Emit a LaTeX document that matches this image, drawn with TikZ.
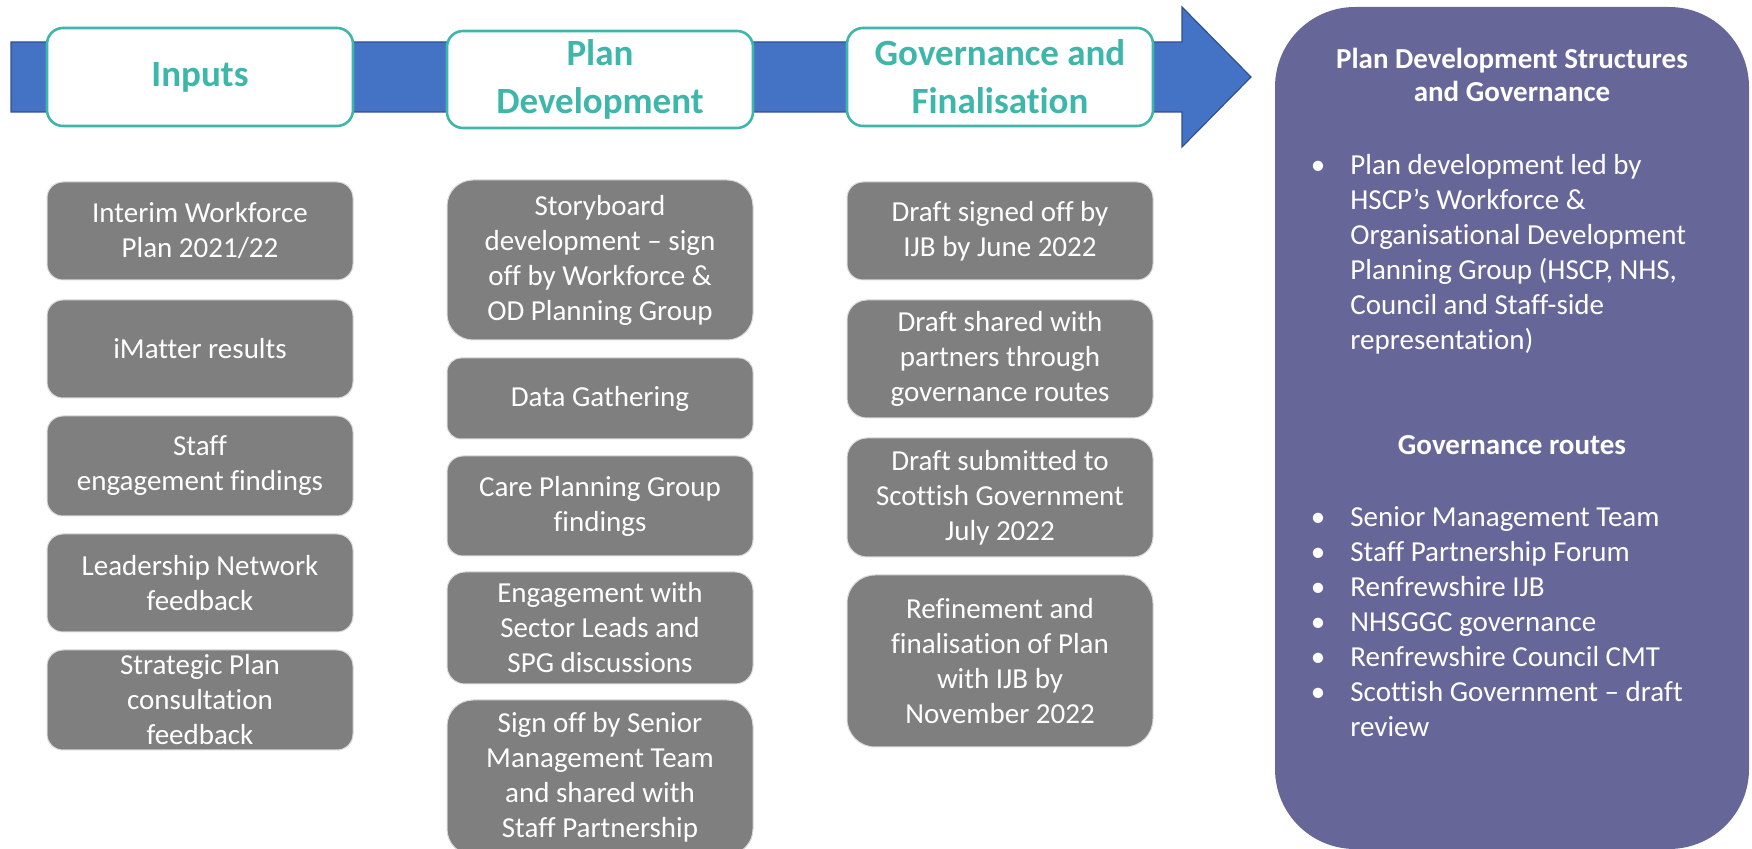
\documentclass[tikz,border=0pt]{standalone}
\usepackage{fontspec}
\setmainfont{Carlito}[Ligatures={NoCommon}]
\definecolor{bandblue}{HTML}{4472C4}
\definecolor{banddark}{HTML}{2F528F}
\definecolor{tealc}{HTML}{3EB6AA}
\definecolor{boxgrey}{HTML}{7F7F7F}
\definecolor{panelc}{HTML}{666699}
\begin{document}
\begin{tikzpicture}[x=0.5pt,y=-0.5pt,
  greybox/.style={fill=boxgrey, draw=gray!30, line width=0.5pt, text=white, align=center,
    font=\fontsize{14.5}{17.5}\selectfont, minimum width=153pt, inner sep=0pt},
  headbox/.style={fill=white, draw=tealc, line width=1.3pt, text=tealc, align=center,
    font=\bfseries\fontsize{18.5}{24}\selectfont, minimum width=153pt, inner sep=0pt, rounded corners=8pt},
  paneltext/.style={text=white, inner sep=0pt, font=\fontsize{14.5}{17.5}\selectfont},
  paneltitle/.style={text=white, inner sep=0pt, font=\bfseries\fontsize{14.5}{17.5}\selectfont},
]
\useasboundingbox (0,0) rectangle (1752,849);
\clip (0,0) rectangle (1752,849);

% arrow band
\draw[fill=bandblue, draw=banddark, line width=0.6pt]
  (11,42) -- (1182,42) -- (1182,7) -- (1251,77) -- (1182,147) -- (1182,112) -- (11,112) -- cycle;

% header boxes
\node[headbox, minimum height=49pt] (h1) at (200,77) {Inputs};
\node[headbox, minimum height=48.5pt] (h2) at (600,79.5) {Plan\\Development};
\node[headbox, minimum height=49pt] (h3) at (1000,77) {Governance and\\Finalisation};

% column 1
\node[greybox, minimum height=49pt, rounded corners=8pt] (i1) at (200,231) {Interim Workforce\\Plan 2021/22};
\node[greybox, minimum height=49pt, rounded corners=8pt] (i2) at (200,349) {iMatter results};
\node[greybox, minimum height=50pt, rounded corners=8pt] (i3) at (200,466) {Staff\\engagement findings};
\node[greybox, minimum height=49pt, rounded corners=8pt] (i4) at (200,583) {Leadership Network\\feedback};
\node[greybox, minimum height=50pt, rounded corners=8pt] (i5) at (200,700) {Strategic Plan\\consultation\\feedback};

% column 2
\node[greybox, minimum height=80pt, rounded corners=13pt] (p1) at (600,260) {Storyboard\\development – sign\\off by Workforce \&\\OD Planning Group};
\node[greybox, minimum height=40.5pt, rounded corners=7pt] (p2) at (600,398.5) {Data Gathering};
\node[greybox, minimum height=50pt, rounded corners=8pt] (p3) at (600,506) {Care Planning Group\\findings};
\node[greybox, minimum height=56pt, rounded corners=9pt] (p4) at (600,628) {Engagement with\\Sector Leads and\\SPG discussions};
\node[greybox, minimum height=77.5pt, rounded corners=13pt] (p5) at (600,777.5) {Sign off by Senior\\Management Team\\and shared with\\Staff Partnership};

% column 3
\node[greybox, minimum height=49pt, rounded corners=8pt] (g1) at (1000,231) {Draft signed off by\\IJB by June 2022};
\node[greybox, minimum height=59pt, rounded corners=10pt] (g2) at (1000,359) {Draft shared with\\partners through\\governance routes};
\node[greybox, minimum height=59.5pt, rounded corners=10pt] (g3) at (1000,497.5) {Draft submitted to\\Scottish Government\\July 2022};
\node[greybox, minimum height=86pt, rounded corners=14pt] (g4) at (1000,661) {Refinement and\\finalisation of Plan\\with IJB by\\November 2022};

% right panel
\node[fill=panelc, draw=none, minimum width=237pt, minimum height=421pt, rounded corners=40pt, inner sep=0pt] (panel) at (1512,428) {};

\node[paneltitle, anchor=base] (t1) at (1512,69) {Plan Development Structures};
\node[paneltitle, anchor=base] (t2) at (1512,102) {and Governance};

\node[paneltext, anchor=base] (b0) at (1318,175) {•};
\foreach \yy/\tx [count=\k] in {175/{Plan development led by}, 210/{HSCP’s Workforce \&}, 245/{Organisational Development}, 280/{Planning Group (HSCP, NHS,}, 315/{Council and Staff-side}, 350/{representation)}}
  \node[paneltext, anchor=base west] (a\k) at (1350,\yy) {\tx};

\node[paneltitle, anchor=base] (t3) at (1512,455) {Governance routes};

\foreach \yy/\tx [count=\k] in {527/{Senior Management Team}, 562/{Staff Partnership Forum}, 597/{Renfrewshire IJB}, 632/{NHSGGC governance}, 667/{Renfrewshire Council CMT}, 702/{Scottish Government – draft}}
{
  \node[paneltext, anchor=base] (c\k) at (1318,\yy) {•};
  \node[paneltext, anchor=base west] (r\k) at (1350,\yy) {\tx};
}
\node[paneltext, anchor=base west] (r7) at (1350,737) {review};
\end{tikzpicture}
\end{document}
